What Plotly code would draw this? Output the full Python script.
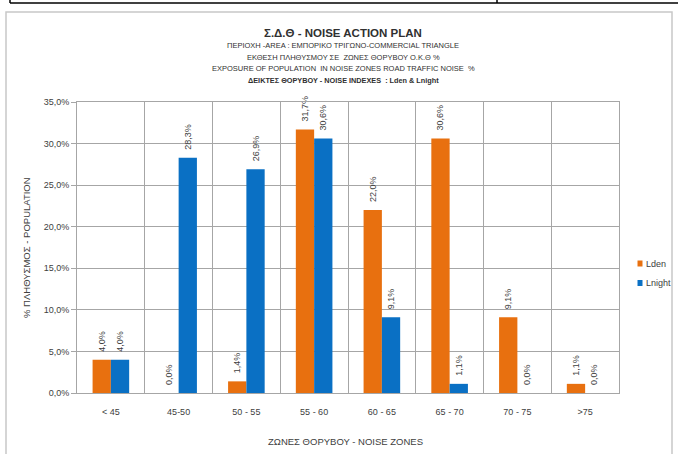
import plotly.graph_objects as go

categories = ["< 45", "45-50", "50 - 55", "55 - 60", "60 - 65", "65 - 70", "70 - 75", ">75"]
lden = [4.0, 0.0, 1.4, 31.7, 22.0, 30.6, 9.1, 1.1]
lnight = [4.0, 28.3, 26.9, 30.6, 9.1, 1.1, 0.0, 0.0]
series_names = ["Lden", "Lnight"]
y_ticks = [0, 5, 10, 15, 20, 25, 30, 35]

title_lines = [
    ("<b>Σ.Δ.Θ - NOISE ACTION PLAN</b>", 11.5),
    ("ΠΕΡΙΟΧΗ -AREA : ΕΜΠΟΡΙΚΟ ΤΡΙΓΩΝΟ-COMMERCIAL TRIANGLE", 7.5),
    ("ΕΚΘΕΣΗ ΠΛΗΘΥΣΜΟΥ ΣΕ  ΖΩΝΕΣ ΘΟΡΥΒΟΥ Ο.Κ.Θ %", 7.5),
    ("EXPOSURE OF POPULATION  IN NOISE ZONES ROAD TRAFFIC NOISE  %", 7.5),
    ("<b>ΔΕΙΚΤΕΣ ΘΟΡΥΒΟΥ - NOISE INDEXES  : Lden &amp; Lnight</b>", 7.3),
]

W, H = 678, 454
L, R, T, B = 77, 619, 102, 393
FONT = "Liberation Sans Narrow, Arial Narrow, Liberation Sans, sans-serif"
ORANGE = "#E8700F"
BLUE = "#0A70C4"
GRID = "#a6a6a6"
TXT = "#404040"


def px(x):
    return (x - L) / (R - L)


def py(y):
    return 1 - (y - T) / (B - T)


def fmt(v):
    return f"{v:.1f}%".replace(".", ",")


colors = [ORANGE, BLUE]
fig = go.Figure()
for name, vals, col in [(series_names[0], lden, ORANGE), (series_names[1], lnight, BLUE)]:
    fig.add_trace(go.Bar(
        x=categories, y=vals, name=name, marker_color=col, marker_line_width=0,
        text=["\u00a0\u00a0" + fmt(v) for v in vals], textposition="outside", textangle=-90,
        constraintext="none",
        textfont=dict(size=9, color=TXT, family=FONT), cliponaxis=False,
        showlegend=False,
    ))

annotations = []
ys = [33, 45, 57, 69, 80]
for (txt, sz), yy in zip(title_lines, ys):
    annotations.append(dict(text=txt, x=px(343), y=py(yy), xref="paper", yref="paper",
                            showarrow=False, xanchor="center", yanchor="middle",
                            font=dict(size=sz, color="#303030", family=FONT)))
annotations.append(dict(text="% ΠΛΗΘΥΣΜΟΣ - POPULATION", x=px(26), y=py(248), xref="paper", yref="paper",
                        showarrow=False, textangle=-90, xanchor="center", yanchor="middle",
                        font=dict(size=9.5, color=TXT, family=FONT)))
annotations.append(dict(text="ΖΩΝΕΣ ΘΟΡΥΒΟΥ - NOISE ZONES", x=px(345), y=py(441), xref="paper", yref="paper",
                        showarrow=False, xanchor="center", yanchor="middle",
                        font=dict(size=9.5, color=TXT, family=FONT)))

shapes = [
    dict(type="line", xref="paper", yref="paper", x0=px(10), x1=px(678), y0=py(3), y1=py(3),
         line=dict(color="black", width=1.5)),
    dict(type="line", xref="paper", yref="paper", x0=px(10), x1=px(10), y0=py(0), y1=py(3),
         line=dict(color="black", width=1.5)),
    dict(type="line", xref="paper", yref="paper", x0=px(497), x1=px(497), y0=py(0), y1=py(3),
         line=dict(color="black", width=1.5)),
    dict(type="rect", xref="paper", yref="paper", x0=px(6), x1=px(672), y0=py(12), y1=py(460),
         line=dict(color="#c8c8c8", width=1.5)),
]

# legend (manual, to match the compact swatch + label spacing)
leg_y = [263.5, 283]
for name, col, yy in zip(series_names, colors, leg_y):
    shapes.append(dict(type="rect", xref="paper", yref="paper", x0=px(637.5), x1=px(642.5),
                       y0=py(yy - 3), y1=py(yy + 3), fillcolor=col, line=dict(width=0)))
    annotations.append(dict(text=name, x=px(644), y=py(yy), xref="paper", yref="paper",
                            showarrow=False, xanchor="left", yanchor="middle",
                            font=dict(size=9, color=TXT, family=FONT)))

fig.update_layout(
    width=W, height=H,
    margin=dict(l=L, r=W - R, t=T, b=H - B, autoexpand=False),
    paper_bgcolor="white", plot_bgcolor="white",
    separators=",.",
    barmode="group", bargap=0.46, bargroupgap=0,
    font=dict(family=FONT, color=TXT, size=9),
    showlegend=False,
    annotations=annotations, shapes=shapes,
    xaxis=dict(type="category", tickson="boundaries", showgrid=True, gridcolor=GRID, gridwidth=1,
               showline=True, linecolor=GRID, mirror=True, ticks="", tickfont=dict(size=9, color=TXT),
               ticklabelstandoff=10),
    yaxis=dict(range=[0, 35], tickvals=y_ticks, ticktext=[fmt(v) for v in y_ticks],
               showgrid=True, gridcolor=GRID, gridwidth=1, showline=True, linecolor=GRID, mirror=True,
               ticks="outside", ticklen=5, tickcolor=GRID, tickfont=dict(size=9, color=TXT),
               zeroline=False),
)

fig.write_html("out.html")
